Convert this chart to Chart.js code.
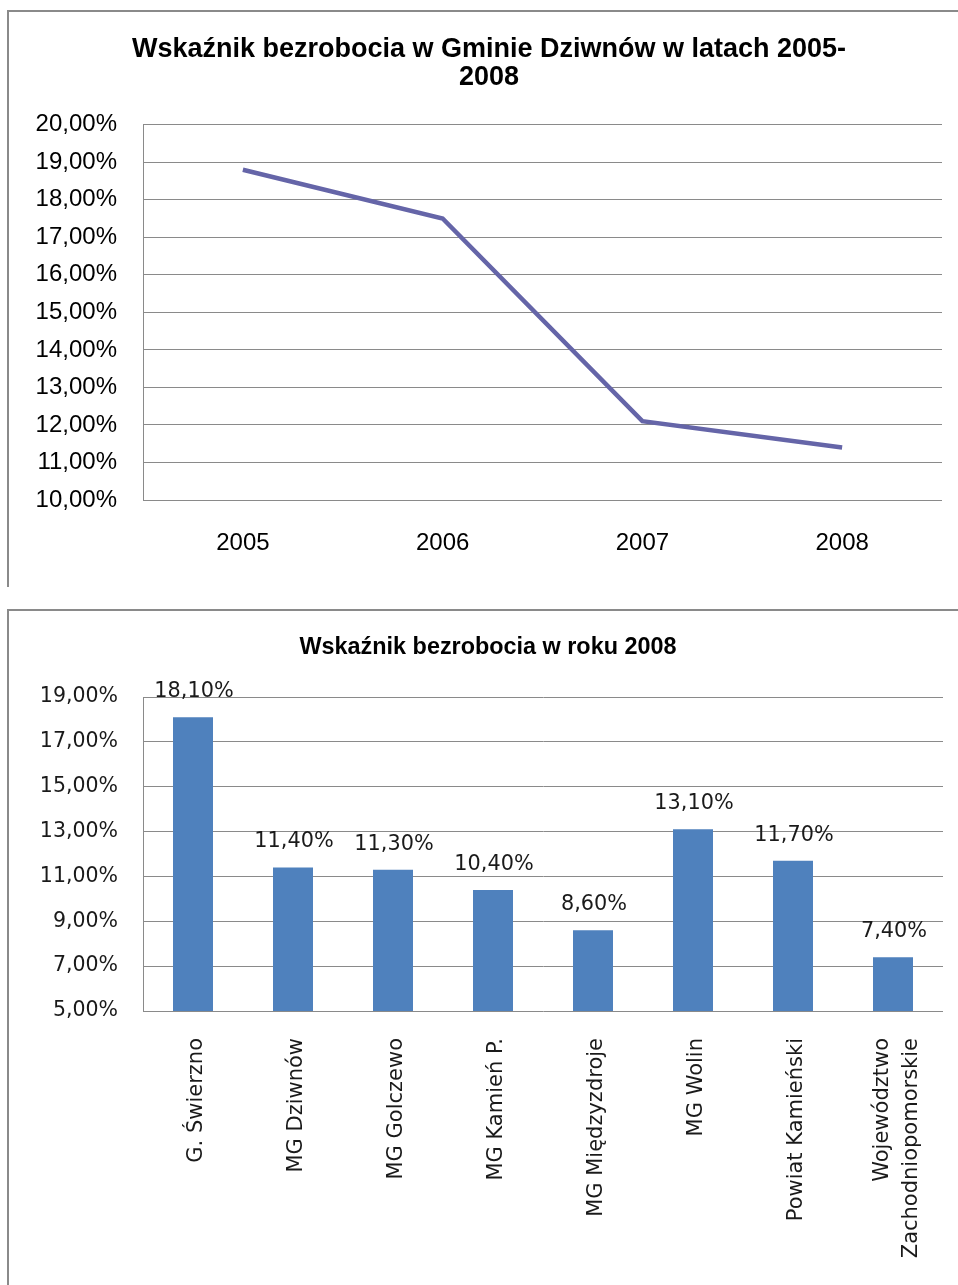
<!DOCTYPE html>
<html>
<head>
<meta charset="utf-8">
<script src="https://cdn.jsdelivr.net/npm/chart.js@4.4.1/dist/chart.umd.min.js"></script>
<style>
  html, body { margin: 0; padding: 0; background: #fff; }
  body { width: 958px; height: 1285px; position: relative; overflow: hidden; }
  .box { position: absolute; }
  .line { position: absolute; background: #8a8a8a; }
</style>
</head>
<body>
<div class="line" style="left:8px;top:10px;width:950px;height:2px;"></div>
<div class="line" style="left:7px;top:10px;width:2px;height:577px;"></div>
<div class="line" style="left:8px;top:609px;width:950px;height:2px;"></div>
<div class="line" style="left:7px;top:609px;width:2px;height:676px;"></div>

<div class="box" style="left:0;top:0;width:958px;height:585px;"><canvas id="lineChart"></canvas></div>
<div class="box" style="left:0;top:600px;width:958px;height:685px;"><canvas id="barChart"></canvas></div>

<script>
// ---- data ----
const lineTitle = ['Wskaźnik bezrobocia w Gminie Dziwnów w latach 2005-', '2008'];
const lineYears = ['2005', '2006', '2007', '2008'];
const lineValues = [18.8, 17.5, 12.1, 11.4];
const lineAxisMin = 10;
const lineAxisMax = 20;
const lineAxisStep = 1;

const barTitle = 'Wskaźnik bezrobocia w roku 2008';
const barCategories = ['G. Świerzno', 'MG Dziwnów', 'MG Golczewo', 'MG Kamień P.', 'MG Międzyzdroje', 'MG Wolin', 'Powiat Kamieński', ['Województwo', 'Zachodniopomorskie']];
const barValues = [18.1, 11.4, 11.3, 10.4, 8.6, 13.1, 11.7, 7.4];
const barAxisMin = 5;
const barAxisMax = 19;
const barAxisStep = 2;

// ---- helpers ----
const pct = v => Number(v).toFixed(2).replace('.', ',') + '%';
const gridColor = '#8a8a8a';
const noPad = s => { s.paddingLeft = 0; s.paddingRight = 0; };

// ---- line chart ----
new Chart(document.getElementById('lineChart'), {
  type: 'line',
  data: {
    labels: lineYears,
    datasets: [{
      data: lineValues,
      borderColor: '#6565a8',
      borderWidth: 4.5,
      pointRadius: 0,
      tension: 0,
      fill: false
    }]
  },
  options: {
    responsive: true,
    maintainAspectRatio: false,
    devicePixelRatio: 1,
    animation: false,
    layout: { padding: { left: 36, right: 16, top: 0, bottom: 0 } },
    plugins: {
      legend: { display: false },
      tooltip: { enabled: false },
      title: {
        display: true,
        text: lineTitle,
        color: '#000',
        font: { family: 'Liberation Sans', size: 27, weight: 'bold', lineHeight: 1.05 },
        padding: { top: 35, bottom: 33 }
      }
    },
    scales: {
      x: {
        offset: true,
        grid: { display: false, drawTicks: false },
        border: { display: false },
        ticks: { color: '#000', font: { family: 'Liberation Sans', size: 24 }, padding: 29, maxRotation: 0 },
        afterFit: s => { s.height = 85; noPad(s); }
      },
      y: {
        min: lineAxisMin,
        max: lineAxisMax,
        grid: { color: gridColor, lineWidth: 1, drawTicks: false },
        border: { display: true, color: gridColor, width: 1 },
        ticks: { stepSize: lineAxisStep, color: '#000', font: { family: 'Liberation Sans', size: 24 }, padding: 26, callback: v => pct(v) },
        afterFit: s => { s.width = 107; }
      }
    }
  }
});

// ---- bar chart ----
const barLabelPlugin = {
  id: 'barLabels',
  beforeDraw(chart) {
    // center multi-line rotated category labels on their tick
    const sx = chart.scales.x;
    if (!sx || !sx.getLabelItems) return;
    const items = sx.getLabelItems(chart.chartArea);
    items.forEach(it => {
      const n = Array.isArray(it.label) ? it.label.length : 1;
      const lh = it.font && it.font.lineHeight ? it.font.lineHeight : 28;
      it.textOffset = (it.textOffset || 0) + 4 - (n - 1) * lh / 2;
    });
  },
  afterDatasetsDraw(chart) {
    const ctx = chart.ctx;
    const meta = chart.getDatasetMeta(0);
    ctx.save();
    ctx.font = '20.8px "DejaVu Sans"';
    ctx.fillStyle = '#1a1a1a';
    ctx.textAlign = 'center';
    ctx.textBaseline = 'alphabetic';
    meta.data.forEach((bar, i) => {
      ctx.fillText(pct(barValues[i]), bar.x + 1, bar.y - 20);
    });
    ctx.restore();
  }
};

new Chart(document.getElementById('barChart'), {
  type: 'bar',
  data: {
    labels: barCategories,
    datasets: [{
      data: barValues,
      backgroundColor: '#4f81bd',
      borderWidth: 0,
      categoryPercentage: 1,
      barPercentage: 0.4
    }]
  },
  plugins: [barLabelPlugin],
  options: {
    responsive: true,
    maintainAspectRatio: false,
    devicePixelRatio: 1,
    animation: false,
    layout: { padding: { left: 33, right: 15, top: 0, bottom: 0 } },
    plugins: {
      legend: { display: false },
      tooltip: { enabled: false },
      title: {
        display: true,
        text: barTitle,
        color: '#000',
        font: { family: 'Liberation Sans', size: 23.4, weight: 'bold', lineHeight: 1.2 },
        padding: { top: 34, bottom: 35 }
      }
    },
    scales: {
      x: {
        grid: { display: false, drawTicks: false },
        border: { display: false },
        ticks: {
          color: '#1a1a1a',
          font: { family: 'DejaVu Sans', size: 21, lineHeight: 1.35 },
          padding: 27,
          minRotation: 90,
          maxRotation: 90,
          autoSkip: false
        },
        afterFit: s => { s.height = 274; noPad(s); }
      },
      y: {
        min: barAxisMin,
        max: barAxisMax,
        grid: { color: gridColor, lineWidth: 1, drawTicks: false },
        border: { display: true, color: gridColor, width: 1 },
        ticks: { stepSize: barAxisStep, color: '#1a1a1a', font: { family: 'DejaVu Sans', size: 20.5 }, padding: 25, callback: v => pct(v) },
        afterFit: s => { s.width = 110; }
      }
    }
  }
});
</script>
</body>
</html>
